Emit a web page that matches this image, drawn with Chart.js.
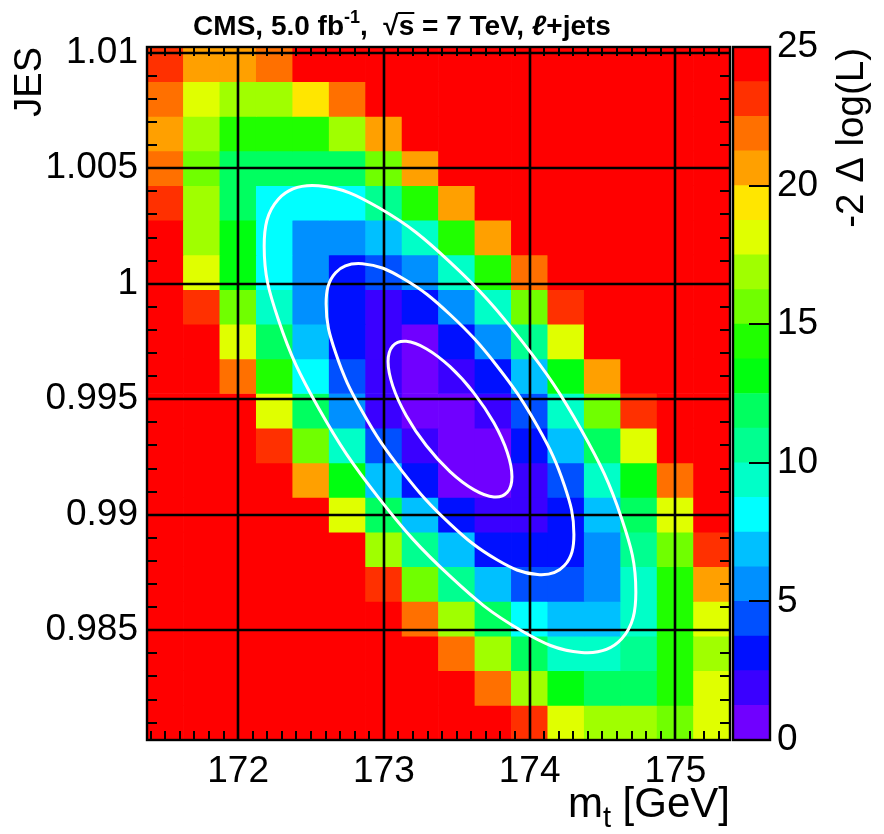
<!DOCTYPE html>
<html>
<head>
<meta charset="utf-8">
<script src="https://cdn.jsdelivr.net/npm/chart.js@4.4.0/dist/chart.umd.min.js"></script>
<style>
  html, body { margin: 0; padding: 0; background: #fff; }
  #wrap { position: relative; width: 884px; height: 834px; }
  #grafica { position: absolute; left: 0; top: 0; }
  #escala { position: absolute; left: 730px; top: 0; }
</style>
</head>
<body>
<div id="wrap">
  <canvas id="grafica" width="884" height="834"></canvas>
  <canvas id="escala" width="154" height="834"></canvas>
</div>
<script>
// centros de los bins del barrido
const mtBins = [171.5, 171.75, 172, 172.25, 172.5, 172.75, 173, 173.25, 173.5, 173.75, 174, 174.25, 174.5, 174.75, 175, 175.25];
const jesBins = [1.0095, 1.008, 1.0065, 1.005, 1.0035, 1.002, 1.0005, 0.999, 0.9975, 0.996, 0.9945, 0.993, 0.9915, 0.99, 0.9885, 0.987, 0.9855, 0.984, 0.9825, 0.981];
const mtBinWidth = 0.25;
const jesBinWidth = 0.0015;

// -2 Delta log(L) por celda, una fila por bin de JES (de arriba a abajo), saturado en 25
const dLogL = [
  [23.1, 20.6, 20.6, 21.9, 25, 25, 25, 25, 25, 25, 25, 25, 25, 25, 25, 25],
  [21.9, 18.1, 16.9, 16.9, 19.4, 21.9, 25, 25, 25, 25, 25, 25, 25, 25, 25, 25],
  [20.6, 16.9, 14.4, 14.4, 14.4, 16.9, 20.6, 25, 25, 25, 25, 25, 25, 25, 25, 25],
  [21.9, 15.6, 11.9, 11.9, 11.9, 11.9, 15.6, 20.6, 25, 25, 25, 25, 25, 25, 25, 25],
  [23.1, 16.9, 11.9, 8.1, 8.1, 8.1, 10.6, 14.4, 20.6, 25, 25, 25, 25, 25, 25, 25],
  [25, 16.9, 13.1, 8.1, 5.6, 5.6, 6.9, 9.4, 14.4, 20.6, 25, 25, 25, 25, 25, 25],
  [25, 18.1, 13.1, 8.1, 5.6, 3.1, 4.4, 5.6, 9.4, 14.4, 21.9, 25, 25, 25, 25, 25],
  [25, 23.1, 15.6, 9.4, 5.6, 3.1, 1.9, 3.1, 5.6, 9.4, 15.6, 23.1, 25, 25, 25, 25],
  [25, 25, 18.1, 11.9, 6.9, 3.1, 1.9, 0.6, 3.1, 5.6, 10.6, 18.1, 25, 25, 25, 25],
  [25, 25, 21.9, 14.4, 8.1, 4.4, 1.9, 0.6, 1.9, 3.1, 6.9, 13.1, 20.6, 25, 25, 25],
  [25, 25, 25, 18.1, 11.9, 5.6, 1.9, 0.6, 0.6, 1.9, 4.4, 9.4, 15.6, 23.1, 25, 25],
  [25, 25, 25, 23.1, 15.6, 9.4, 4.4, 1.9, 0.6, 0.6, 3.1, 6.9, 11.9, 18.1, 25, 25],
  [25, 25, 25, 25, 20.6, 13.1, 6.9, 3.1, 0.6, 0.6, 1.9, 4.4, 9.4, 13.1, 21.9, 25],
  [25, 25, 25, 25, 25, 18.1, 11.9, 6.9, 3.1, 1.9, 1.9, 3.1, 6.9, 11.9, 18.1, 25],
  [25, 25, 25, 25, 25, 25, 16.9, 10.6, 6.9, 3.1, 3.1, 3.1, 5.6, 10.6, 15.6, 23.1],
  [25, 25, 25, 25, 25, 25, 23.1, 15.6, 10.6, 6.9, 4.4, 4.4, 5.6, 9.4, 14.4, 20.6],
  [25, 25, 25, 25, 25, 25, 25, 21.9, 16.9, 11.9, 8.1, 6.9, 6.9, 9.4, 14.4, 18.1],
  [25, 25, 25, 25, 25, 25, 25, 25, 21.9, 16.9, 11.9, 9.4, 9.4, 10.6, 14.4, 16.9],
  [25, 25, 25, 25, 25, 25, 25, 25, 25, 21.9, 16.9, 13.1, 11.9, 11.9, 14.4, 18.1],
  [25, 25, 25, 25, 25, 25, 25, 25, 25, 25, 23.1, 18.1, 16.9, 16.9, 15.6, 18.1]
];

const mtTicks = [172, 173, 174, 175];
const jesTicks = [0.985, 0.99, 0.995, 1, 1.005, 1.01];
const zTicks = [0, 5, 10, 15, 20, 25];
const zMax = 25;

// paleta de ROOT, de 0 a 25
const paletteColors = ['#7000ff', '#3a00ff', '#0010ff', '#0050ff', '#0090ff', '#00c0ff', '#00ffff', '#00ffc8',
  '#00ff90', '#00ff60', '#00ff10', '#20ff00', '#70ff00', '#a0ff00', '#e0ff00', '#ffe600',
  '#ffa000', '#ff7000', '#ff3000', '#ff0000'];

// contornos (mt, JES)
const contour1 = [[173.879, 0.99165], [173.847, 0.99270], [173.755, 0.99398], [173.617, 0.99528], [173.454, 0.99641], [173.291, 0.99719], [173.153, 0.99751], [173.061, 0.99731],
  [173.029, 0.99663], [173.061, 0.99558], [173.153, 0.99430], [173.291, 0.99300], [173.454, 0.99187], [173.617, 0.99109], [173.755, 0.99077], [173.847, 0.99097]];
const contour2 = [[174.304, 0.98915], [174.239, 0.99127], [174.055, 0.99382], [173.779, 0.99642], [173.454, 0.99867], [173.129, 1.00024], [172.853, 1.00087], [172.669, 1.00048],
  [172.604, 0.99913], [172.669, 0.99701], [172.853, 0.99446], [173.129, 0.99186], [173.454, 0.98961], [173.779, 0.98804], [174.055, 0.98741], [174.239, 0.98780]];
const contour3 = [[174.729, 0.98666], [174.632, 0.98983], [174.356, 0.99366], [173.942, 0.99756], [173.454, 1.00094], [172.966, 1.00329], [172.552, 1.00424], [172.276, 1.00366],
  [172.179, 1.00162], [172.276, 0.99845], [172.552, 0.99462], [172.966, 0.99072], [173.454, 0.98734], [173.942, 0.98499], [174.356, 0.98404], [174.632, 0.98463]];

const FUENTE = '"Liberation Sans", Arial, Helvetica, sans-serif';
Chart.defaults.font.family = FUENTE;
Chart.defaults.color = '#000';

function colorPara(z) {
  const paso = zMax / paletteColors.length;
  return paletteColors[Math.min(paletteColors.length - 1, Math.floor(z / paso))];
}

function contorno(puntos) {
  // se repiten vecinos para que la curva cierre suave; los tramos extra no se pintan
  const cerrado = [puntos[puntos.length - 1], ...puntos, puntos[0], puntos[1]];
  const ultimo = cerrado.length - 1;
  return {
    type: 'line',
    order: 1,
    data: cerrado.map(p => ({ x: p[0], y: p[1] })),
    borderColor: '#ffffff',
    borderWidth: 3,
    pointRadius: 0,
    tension: 0.4,
    fill: false,
    segment: {
      borderColor: ctx => (ctx.p0DataIndex === 0 || ctx.p1DataIndex === ultimo) ? 'rgba(0,0,0,0)' : '#ffffff'
    }
  };
}

function dibujarRejilla(chart) {
  const { ctx, chartArea: a, scales: { x, y } } = chart;
  ctx.save();
  ctx.strokeStyle = '#000';
  ctx.lineWidth = 2.6;
  ctx.beginPath();
  mtTicks.forEach(v => {
    const px = Math.round(x.getPixelForValue(v));
    ctx.moveTo(px, a.top);
    ctx.lineTo(px, a.bottom);
  });
  jesTicks.forEach(v => {
    const py = Math.round(y.getPixelForValue(v));
    ctx.moveTo(a.left, py);
    ctx.lineTo(a.right, py);
  });
  ctx.stroke();
  ctx.restore();
}

function dibujarMarco(chart) {
  const { ctx, chartArea: a, scales: { x, y } } = chart;
  ctx.save();
  ctx.strokeStyle = '#000';
  ctx.lineWidth = 2.4;
  ctx.strokeRect(a.left, a.top, a.right - a.left, a.bottom - a.top);
  ctx.lineWidth = 2;
  ctx.beginPath();
  for (let i = Math.ceil(x.min * 10 - 1e-6); i <= Math.floor(x.max * 10 + 1e-6); i++) {
    const px = Math.round(x.getPixelForValue(i / 10));
    const len = i % 10 === 0 ? 18 : 9;
    ctx.moveTo(px, a.bottom); ctx.lineTo(px, a.bottom - len);
    ctx.moveTo(px, a.top); ctx.lineTo(px, a.top + len);
  }
  for (let i = Math.ceil(y.min * 1000 - 1e-6); i <= Math.floor(y.max * 1000 + 1e-6); i++) {
    const py = Math.round(y.getPixelForValue(i / 1000));
    const len = i % 5 === 0 ? 18 : 10;
    ctx.moveTo(a.left, py); ctx.lineTo(a.left + len, py);
    ctx.moveTo(a.right, py); ctx.lineTo(a.right - len, py);
  }
  ctx.stroke();
  ctx.restore();
}

function dibujarTextos(chart) {
  const { ctx, chartArea: a } = chart;
  ctx.save();
  ctx.fillStyle = '#000';
  ctx.textBaseline = 'alphabetic';

  // titulo
  const grande = 'bold 28px ' + FUENTE;
  const chica = 'bold 18px ' + FUENTE;
  const partes = [
    { t: 'CMS, 5.0 fb', f: grande, dy: 0 },
    { t: '-1', f: chica, dy: -12 },
    { t: ',  ', f: grande, dy: 0 },
    { t: '\u221A', f: grande, dy: 0 },
    { t: 's', f: grande, dy: 0, raya: true },
    { t: ' = 7 TeV, ', f: grande, dy: 0 },
    { t: '\u2113', f: 'italic ' + grande, dy: 0 },
    { t: '+jets', f: grande, dy: 0 }
  ];
  let total = 0;
  partes.forEach(p => { ctx.font = p.f; p.w = ctx.measureText(p.t).width; total += p.w; });
  let px = 402 - total / 2;
  const base = 35;
  partes.forEach(p => {
    ctx.font = p.f;
    ctx.fillText(p.t, px, base + p.dy);
    if (p.raya) ctx.fillRect(px - 1, base - 23, p.w + 1, 2);
    px += p.w;
  });

  // titulo del eje x: m_t [GeV]
  const fEje = '42px ' + FUENTE;
  const fSub = '29px ' + FUENTE;
  ctx.font = fEje;
  const wResto = ctx.measureText(' [GeV]').width;
  const wM = ctx.measureText('m').width;
  ctx.font = fSub;
  const wT = ctx.measureText('t').width;
  let xx = a.right - wResto - wT - wM;
  const bx = 817;
  ctx.font = fEje;
  ctx.fillText('m', xx, bx);
  xx += wM;
  ctx.font = fSub;
  ctx.fillText('t', xx, bx + 10);
  xx += wT;
  ctx.font = fEje;
  ctx.fillText(' [GeV]', xx, bx);
  ctx.restore();
}

const marcoRoot = {
  id: 'marcoRoot',
  beforeDatasetsDraw(chart) { chart.$rejilla = false; },
  beforeDatasetDraw(chart, args) {
    if (args.meta.type === 'line' && !chart.$rejilla) {
      dibujarRejilla(chart);
      chart.$rejilla = true;
    }
  },
  afterDatasetsDraw(chart) { dibujarMarco(chart); },
  afterDraw(chart) { dibujarTextos(chart); }
};

function prepararCeldas() {
  return jesBins.map((jes, r) => ({
    type: 'bar',
    order: 2,
    data: mtBins.map(mt => ({ x: mt, y: [jes - jesBinWidth / 2, jes + jesBinWidth / 2] })),
    backgroundColor: dLogL[r].map(colorPara),
    borderWidth: 0,
    barPercentage: 1,
    categoryPercentage: 1,
    grouped: false
  }));
}

function renderGrafica() {
  const datasets = prepararCeldas().concat([contorno(contour3), contorno(contour2), contorno(contour1)]);
  new Chart(document.getElementById('grafica'), {
    type: 'bar',
    data: { datasets: datasets },
    options: {
      responsive: false,
      animation: false,
      events: [],
      layout: { padding: { left: 0, top: 47, right: 154, bottom: 0 } },
      plugins: { legend: { display: false }, tooltip: { enabled: false } },
      scales: {
        x: {
          type: 'linear',
          position: 'bottom',
          offset: false,
          min: mtBins[0] - mtBinWidth / 2,
          max: mtBins[mtBins.length - 1] + mtBinWidth / 2,
          afterBuildTicks: s => { s.ticks = mtTicks.map(v => ({ value: v })); },
          afterFit: s => { s.height = 94; },
          grid: { display: false, drawTicks: false, offset: false },
          border: { display: false },
          ticks: { font: { size: 37 }, padding: 10, maxRotation: 0, callback: v => String(v) }
        },
        y: {
          type: 'linear',
          position: 'left',
          min: jesBins[jesBins.length - 1] - jesBinWidth / 2,
          max: jesBins[0] + jesBinWidth / 2,
          afterBuildTicks: s => { s.ticks = jesTicks.map(v => ({ value: v })); },
          afterFit: s => { s.width = 147; },
          grid: { display: false, drawTicks: false },
          border: { display: false },
          ticks: { font: { size: 37 }, padding: 9, callback: v => String(v) },
          title: { display: true, text: 'JES', align: 'end', font: { size: 38, lineHeight: 1 }, padding: { top: 12, bottom: 0 } }
        }
      }
    },
    plugins: [marcoRoot]
  });
}

const escalaMarco = {
  id: 'escalaMarco',
  afterDraw(chart) {
    const { ctx, chartArea: a, scales: { y } } = chart;
    ctx.save();
    ctx.strokeStyle = '#000';
    ctx.lineWidth = 2.4;
    ctx.strokeRect(a.left, a.top, a.right - a.left, a.bottom - a.top);
    ctx.lineWidth = 2;
    ctx.beginPath();
    zTicks.forEach(v => {
      const py = Math.round(y.getPixelForValue(v));
      ctx.moveTo(a.right, py);
      ctx.lineTo(a.right - 21, py);
    });
    ctx.stroke();
    ctx.fillStyle = '#000';
    ctx.font = '38.5px ' + FUENTE;
    ctx.translate(122, 48);
    ctx.rotate(-Math.PI / 2);
    ctx.textAlign = 'right';
    ctx.textBaseline = 'middle';
    ctx.fillText('-2 \u0394 log(L)', 0, 0);
    ctx.restore();
  }
};

function renderEscala() {
  const paso = zMax / paletteColors.length;
  new Chart(document.getElementById('escala'), {
    type: 'bar',
    data: {
      labels: [''],
      datasets: paletteColors.map(c => ({ data: [paso], backgroundColor: c, borderWidth: 0, barPercentage: 1, categoryPercentage: 1 }))
    },
    options: {
      responsive: false,
      animation: false,
      events: [],
      layout: { padding: { left: 3, top: 47, right: 0, bottom: 94 } },
      plugins: { legend: { display: false }, tooltip: { enabled: false } },
      scales: {
        x: { display: false, stacked: true },
        y: {
          stacked: true,
          position: 'right',
          min: 0,
          max: zMax,
          afterBuildTicks: s => { s.ticks = zTicks.map(v => ({ value: v })); },
          afterFit: s => { s.width = 114; },
          grid: { display: false, drawTicks: false },
          border: { display: false },
          ticks: { font: { size: 37 }, padding: 7 }
        }
      }
    },
    plugins: [escalaMarco]
  });
}

renderGrafica();
renderEscala();
</script>
</body>
</html>
